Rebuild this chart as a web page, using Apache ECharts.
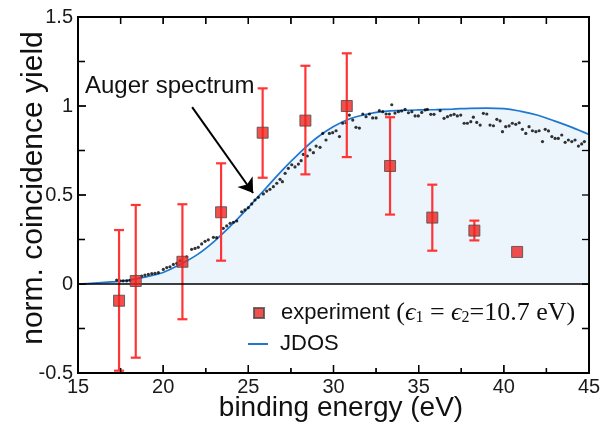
<!DOCTYPE html>
<html><head><meta charset="utf-8">
<script src="https://cdn.jsdelivr.net/npm/echarts@6/dist/echarts.min.js"></script>
<style>html,body{margin:0;padding:0;background:#fff}#c{width:611px;height:425px}</style>
</head><body><div id="c"></div>
<script>
// JDOS curve
const jdosX = [15,16,17,18,19,20,21,22,23,24,25,26,27,28,29,30,31,32,33,34,35,36,37,38,39,40,41,42,43,44,45];
const jdosY = [0,0.005,0.012,0.022,0.04,0.065,0.11,0.165,0.24,0.33,0.43,0.535,0.64,0.735,0.82,0.885,0.93,0.955,0.97,0.975,0.978,0.98,0.983,0.987,0.988,0.985,0.97,0.948,0.915,0.88,0.84];
// Auger spectrum dots
const augerX = [17.27,17.47,17.65,17.86,18.05,18.74,18.93,19.13,19.33,19.52,19.72,20.01,20.21,20.40,20.60,20.80,20.99,21.38,21.67,21.87,22.06,22.26,22.46,22.65,22.95,23.14,23.53,23.73,23.93,24.12,24.32,24.61,24.80,25.00,25.20,25.39,25.59,25.88,26.08,26.27,26.47,26.67,26.86,27.00,27.16,27.35,27.55,27.74,27.94,28.10,28.23,28.46,28.62,28.82,28.98,29.21,29.37,29.56,29.76,29.95,30.15,30.35,30.54,30.74,30.93,31.13,31.32,31.52,31.72,31.91,32.11,32.30,32.50,32.69,32.89,33.09,33.28,33.42,33.61,33.81,34.00,34.20,34.40,34.60,34.79,34.98,35.18,35.38,35.51,35.71,35.90,36.26,36.49,36.69,36.88,37.08,37.27,37.47,37.67,37.86,38.06,38.21,38.41,38.61,38.80,39.00,39.19,39.39,39.59,39.78,39.92,40.11,40.31,40.50,40.70,40.90,41.09,41.29,41.48,41.68,41.88,42.07,42.27,42.43,42.62,42.82,43.01,43.20,43.40,43.60,43.79,43.99,44.18,44.38,44.57,44.73];
const augerY = [0.022,0.018,0.018,0.018,0.02,0.045,0.05,0.054,0.058,0.06,0.064,0.082,0.092,0.097,0.11,0.116,0.13,0.153,0.195,0.2,0.206,0.225,0.24,0.248,0.262,0.26,0.313,0.326,0.341,0.347,0.354,0.406,0.416,0.429,0.45,0.472,0.487,0.506,0.522,0.532,0.547,0.566,0.588,0.575,0.622,0.65,0.67,0.658,0.674,0.693,0.728,0.719,0.753,0.738,0.775,0.768,0.846,0.809,0.846,0.85,0.861,0.828,0.903,0.906,0.949,0.921,0.88,0.876,0.955,0.94,0.955,0.933,0.933,0.974,0.968,0.955,0.955,1.007,0.96,0.968,0.972,0.981,0.962,0.968,0.944,0.944,0.964,0.978,0.981,0.953,0.953,0.974,0.931,0.94,0.948,0.953,0.944,0.949,0.903,0.903,0.912,0.937,0.908,0.893,0.959,0.955,0.893,0.889,0.925,0.916,0.856,0.884,0.888,0.903,0.897,0.906,0.869,0.846,0.884,0.861,0.856,0.861,0.80,0.869,0.86,0.828,0.818,0.818,0.837,0.796,0.809,0.80,0.809,0.775,0.787,0.80];
// Experiment with error bars
const expX = [17.41,18.39,21.13,23.40,25.84,28.35,30.78,33.32,35.80,38.27,40.78];
const expY = [-0.094,0.017,0.125,0.403,0.85,0.918,1.0,0.663,0.373,0.30,0.18];
const expLow = [-0.487,-0.414,-0.198,0.131,0.597,0.616,0.713,0.39,0.187,0.245,null];
const expHigh = [0.303,0.444,0.448,0.678,1.099,1.226,1.296,0.937,0.558,0.356,null];
// Axis ranges / ticks
const xMin = 15, xMax = 45, xStep = 5;
const yMin = -0.5, yMax = 1.5, yStep = 0.5;
const xTickVals = [15,17.5,20,22.5,25,27.5,30,32.5,35,37.5,40,42.5,45];
const xMajorVals = [15,20,25,30,35,40,45];
const yTickVals = [-0.5,-0.25,0,0.25,0.5,0.75,1,1.25,1.5];
const yMajorVals = [-0.5,0,0.5,1,1.5];
// Annotation
const arrowFrom = [21.7, 0.994];
const arrowTo = [25.28, 0.511];

const SANS = '"Liberation Sans", Arial, sans-serif';
const SERIF = '"Liberation Serif", "DejaVu Serif", serif';

const textGraphics = [
  {id: 'auger', type: 'text', left: 85, top: 74, z: 100,
   style: {text: 'Auger spectrum', fontFamily: SANS, fontSize: 24, fill: '#111'}},
  {id: 'xt', type: 'text', x: 341, y: 408, z: 100,
   style: {text: 'binding energy (eV)', fontFamily: SANS, fontSize: 28, fill: '#111',
           align: 'center', verticalAlign: 'middle'}},
  {id: 'yt', type: 'text', x: 34, y: 188, rotation: Math.PI / 2, z: 100,
   style: {text: 'norm. coincidence yield', fontFamily: SANS, fontSize: 30, fill: '#111',
           align: 'center', verticalAlign: 'middle'}}
];

// frame + ticks built from a coordinate mapper (library scale)
function frameShapes(toPx) {
  const tl = toPx([xMin, yMax]), br = toPx([xMax, yMin]);
  const L = tl[0], T = tl[1], R = br[0], B = br[1];
  const ts = () => ({stroke: '#000', lineWidth: 1.3});
  const ch = [{type: 'rect', shape: {x: L, y: T, width: R - L, height: B - T},
               style: {stroke: '#000', fill: null, lineWidth: 1.8}}];
  xTickVals.forEach(function (v) {
    const p = toPx([v, yMin])[0];
    const major = xMajorVals.indexOf(v) >= 0;
    ch.push({type: 'line', shape: {x1: p, y1: B, x2: p, y2: B - (major ? 8 : 5)}, style: ts()});
    ch.push({type: 'line', shape: {x1: p, y1: T, x2: p, y2: T + 7}, style: ts()});
  });
  yTickVals.forEach(function (v) {
    const p = toPx([xMin, v])[1];
    const major = yMajorVals.indexOf(v) >= 0;
    ch.push({type: 'line', shape: {x1: L, y1: p, x2: L + (major ? 8 : 7), y2: p}, style: ts()});
    ch.push({type: 'line', shape: {x1: R, y1: p, x2: R - 7, y2: p}, style: ts()});
  });
  return ch;
}

const chart = echarts.init(document.getElementById('c'), null, {renderer: 'canvas'});
const option = {
  animation: false,
  backgroundColor: '#fff',
  grid: {left: 78, right: 22, top: 17, bottom: 52, containLabel: false,
         show: true, borderColor: '#000', borderWidth: 1.8, backgroundColor: 'rgba(0,0,0,0)'},
  xAxis: {type: 'value', position: 'bottom', min: xMin, max: xMax, interval: xStep,
     axisLine: {show: false}, axisTick: {show: false}, splitLine: {show: false},
     axisLabel: {fontFamily: SANS, fontSize: 20, color: '#1a1a1a', margin: 4}},
  yAxis: {type: 'value', position: 'left', min: yMin, max: yMax, interval: yStep,
     axisLine: {show: false}, axisTick: {show: false}, splitLine: {show: false},
     axisLabel: {fontFamily: SANS, fontSize: 20, color: '#1a1a1a', margin: 5}},
  legend: [
    {data: [{name: 'experiment', icon: 'rect'}], left: 253, top: 300, padding: 0,
     itemWidth: 10, itemHeight: 10, selectedMode: false,
     formatter: () => '{t|experiment}{p| (}{i|ϵ}{b|1}{p| = }{i|ϵ}{b|2}{p|=10.7 eV)}',
     textStyle: {rich: {
       t: {fontFamily: SANS, fontSize: 22, color: '#111', padding: [0, 0, 0, 12], lineHeight: 26},
       p: {fontFamily: SERIF, fontSize: 26, color: '#111', lineHeight: 26},
       i: {fontFamily: SERIF, fontSize: 26, fontStyle: 'italic', color: '#111', lineHeight: 26},
       b: {fontFamily: SERIF, fontSize: 16, color: '#111', padding: [10, 0, 0, 0]}
     }}},
    {data: [{name: 'JDOS', icon: 'path://M0,5H20V7H0Z'}], left: 248, top: 331, padding: 0,
     itemWidth: 20, itemHeight: 12, selectedMode: false,
     textStyle: {fontFamily: SANS, fontSize: 22, color: '#111', padding: [0, 0, 0, 7], lineHeight: 26}}
  ],
  graphic: textGraphics,
  series: [
    {name: 'JDOS', type: 'line',
     data: jdosX.map((x, i) => [x, jdosY[i]]), smooth: 0.4, symbol: 'none', showSymbol: false,
     lineStyle: {color: '#1f77d0', width: 1.7}, itemStyle: {color: '#1f77d0'},
     areaStyle: {color: '#ecf4fc', opacity: 1, origin: 0}, z: 1,
     markLine: {silent: true, symbol: ['none', 'none'], label: {show: false},
       lineStyle: {color: '#000', width: 1.6, type: 'solid'}, emphasis: {disabled: true},
       data: [{yAxis: 0}]}},
    {name: 'Auger', type: 'scatter',
     data: augerX.map((x, i) => [x, augerY[i]]), symbol: 'circle', symbolSize: 3.2,
     itemStyle: {color: '#000'}, z: 3,
     markLine: {silent: true, symbol: ['none', 'arrow'], symbolSize: 14, label: {show: false},
       lineStyle: {color: '#000', width: 2, type: 'solid'}, emphasis: {disabled: true},
       data: [[{coord: arrowFrom}, {coord: arrowTo}]]}},
    {name: 'errors', type: 'custom', z: 4,
     data: expX.map((x, i) => [x, expLow[i], expHigh[i]]),
     encode: {x: 0, y: [1, 2]},
     renderItem: function (params, api) {
       const x = api.value(0), lo = api.value(1), hi = api.value(2);
       if (lo == null || hi == null || isNaN(lo) || isNaN(hi)) return null;
       const a = api.coord([x, lo]), b = api.coord([x, hi]);
       const w = 5;
       const mk = () => ({stroke: '#ff3535', lineWidth: 2.2});
       return {type: 'group', children: [
         {type: 'line', shape: {x1: a[0], y1: a[1], x2: b[0], y2: b[1]}, style: mk()},
         {type: 'line', shape: {x1: a[0] - w, y1: a[1], x2: a[0] + w, y2: a[1]}, style: mk()},
         {type: 'line', shape: {x1: b[0] - w, y1: b[1], x2: b[0] + w, y2: b[1]}, style: mk()}
       ]};
     }},
    {name: 'experiment', type: 'scatter', z: 5,
     data: expX.map((x, i) => [x, expY[i]]), symbol: 'rect', symbolSize: 11,
     itemStyle: {color: '#ee2420', borderColor: '#4a4a4a', borderWidth: 1}},
    {name: 'frame', type: 'custom', z: 10, silent: true,
     data: [[30, 0.5]],
     encode: {x: 0, y: 1},
     renderItem: function (params, api) {
       return {type: 'group', children: frameShapes(function (p) { return api.coord(p); })};
     }}
  ]
};
chart.setOption(option);
try {
  const toPx = function (p) { return chart.convertToPixel({gridIndex: 0}, p); };
  const frameGroup = {id: 'frameG', type: 'group', z: 90, silent: true, children: frameShapes(toPx)};
  chart.setOption({graphic: textGraphics.concat([frameGroup])});
} catch (e) {}
</script>
</body></html>
